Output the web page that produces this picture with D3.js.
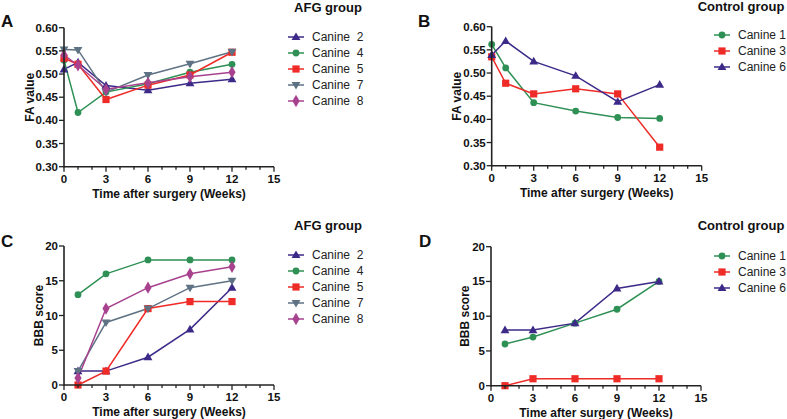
<!DOCTYPE html>
<html><head><meta charset="utf-8">
<script src="https://cdn.jsdelivr.net/npm/d3@7"></script>
<style>
body{margin:0;background:#fff;}
svg{display:block;font-family:Arial,"Liberation Sans",sans-serif;}
</style></head>
<body><svg id="c" width="787" height="419"></svg>
<script>
// ---- data ----
const weeksFA = [0, 1, 3, 6, 9, 12];
const weeksBBB = [1, 3, 6, 9, 12];
const xTicks = [0, 3, 6, 9, 12, 15];
const faTicks = [0.30, 0.35, 0.40, 0.45, 0.50, 0.55, 0.60];
const bbbTicks = [0, 5, 10, 15, 20];

const afgNames = ["Canine  2", "Canine  4", "Canine  5", "Canine  7", "Canine  8"];
const ctrlNames = ["Canine 1", "Canine 3", "Canine 6"];

// A: AFG FA
const faAfgC2 = [0.510, 0.525, 0.475, 0.465, 0.480, 0.489];
const faAfgC4 = [0.530, 0.417, 0.461, 0.479, 0.504, 0.521];
const faAfgC5 = [0.534, 0.521, 0.445, 0.476, 0.498, 0.547];
const faAfgC7 = [0.553, 0.552, 0.461, 0.498, 0.522, 0.548];
const faAfgC8 = [0.541, 0.519, 0.467, 0.481, 0.494, 0.504];
// B: Control FA
const faCtrlC1 = [0.562, 0.511, 0.436, 0.418, 0.404, 0.402];
const faCtrlC3 = [0.535, 0.478, 0.455, 0.466, 0.455, 0.340];
const faCtrlC6 = [0.539, 0.569, 0.525, 0.494, 0.438, 0.475];
// C: AFG BBB
const bbbAfgC2 = [2, 2, 4, 8, 14];
const bbbAfgC4 = [13, 16, 18, 18, 18];
const bbbAfgC5 = [0, 2, 11, 12, 12];
const bbbAfgC7 = [2, 9, 11, 14, 15];
const bbbAfgC8 = [1, 11, 14, 16, 17];
// D: Control BBB
const bbbCtrlC1 = [6, 7, 9, 11, 15];
const bbbCtrlC3 = [0, 1, 1, 1, 1];
const bbbCtrlC6 = [8, 8, 9, 14, 15];

// ---- styles ----
const PURPLE = "#3d2a88", GREEN = "#2f9055", RED = "#ee2b27", GREY = "#5e7284", MAG = "#a8428f";
const afgStyles = [
  {c: PURPLE, s: "tri"}, {c: GREEN, s: "circle"}, {c: RED, s: "square"},
  {c: GREY, s: "tridown"}, {c: MAG, s: "diamond"}];
const ctrlStyles = [{c: GREEN, s: "circle"}, {c: RED, s: "square"}, {c: PURPLE, s: "tri"}];

const svg = d3.select("#c");

function marker(g, type, x, y, color) {
  if (type === "circle") {
    g.append("circle").attr("cx", x).attr("cy", y).attr("r", 3.4).attr("fill", color);
  } else if (type === "square") {
    g.append("rect").attr("x", x - 3.6).attr("y", y - 3.6).attr("width", 7.2).attr("height", 7.2).attr("fill", color);
  } else if (type === "tri") {
    g.append("path").attr("d", d3.symbol(d3.symbolTriangle, 34)()).attr("transform", `translate(${x},${y + 0.5})`).attr("fill", color);
  } else if (type === "tridown") {
    g.append("path").attr("d", d3.symbol(d3.symbolTriangle, 34)()).attr("transform", `translate(${x},${y - 0.5}) rotate(180)`).attr("fill", color);
  } else if (type === "diamond") {
    g.append("path").attr("d", d3.symbol(d3.symbolDiamond, 44)()).attr("transform", `translate(${x},${y})`).attr("fill", color);
  }
}

function panel(o) {
  const x = d3.scaleLinear().domain([0, 15]).range([o.x0, o.x0 + 210]);
  const y = d3.scaleLinear().domain(o.yDomain).range([o.yBottom, o.yTop]);
  const g = svg.append("g");

  // series
  o.series.forEach((vals, i) => {
    const st = o.styles[i];
    const pts = vals.map((v, j) => [x(o.weeks[j]), y(v)]);
    g.append("path").attr("d", d3.line()(pts)).attr("fill", "none")
      .attr("stroke", st.c).attr("stroke-width", 1.5);
  });
  o.series.forEach((vals, i) => {
    const st = o.styles[i];
    vals.forEach((v, j) => marker(g, st.s, x(o.weeks[j]), y(v), st.c));
  });

  // x axis
  const xa = g.append("g").attr("transform", `translate(0,${o.yBottom})`);
  xa.append("line").attr("x1", x(0)).attr("x2", x(15)).attr("stroke", "#222").attr("stroke-width", 1.6);
  d3.range(0, 16).forEach(t => {
    const major = xTicks.includes(t);
    xa.append("line").attr("x1", x(t)).attr("x2", x(t)).attr("y1", 0).attr("y2", major ? 5 : 3)
      .attr("stroke", "#222").attr("stroke-width", 1.3);
  });
  xTicks.forEach(t => {
    xa.append("text").attr("x", x(t)).attr("y", 16).attr("text-anchor", "middle")
      .attr("font-size", 11.5).attr("font-weight", "bold").attr("fill", "#111").text(t);
  });
  // y axis
  const ya = g.append("g").attr("transform", `translate(${o.x0},0)`);
  ya.append("line").attr("y1", o.yTop).attr("y2", o.yBottom + 0.8).attr("stroke", "#222").attr("stroke-width", 1.6);
  o.yTicks.forEach(t => {
    ya.append("line").attr("x1", -5).attr("x2", 0).attr("y1", y(t)).attr("y2", y(t)).attr("stroke", "#222").attr("stroke-width", 1.3);
    ya.append("text").attr("x", -6).attr("y", y(t)).attr("dy", "0.35em").attr("text-anchor", "end")
      .attr("font-size", 11.5).attr("font-weight", "bold").attr("fill", "#111").text(o.yFmt(t));
  });
  // axis titles
  g.append("text").attr("x", x(7.5)).attr("y", o.yBottom + 31).attr("text-anchor", "middle")
    .attr("font-size", 12).attr("font-weight", "bold").attr("fill", "#111").text("Time after surgery (Weeks)");
  g.append("text").attr("transform", `translate(${o.yLabelX},${(o.yTop + o.yBottom) / 2}) rotate(-90)`)
    .attr("text-anchor", "middle").attr("font-size", 12).attr("font-weight", "bold").attr("fill", "#111").text(o.yLabel);
  // panel letter
  g.append("text").attr("x", o.letterX).attr("y", o.letterY).attr("font-size", 17).attr("font-weight", "bold")
    .attr("fill", "#111").text(o.letter);
  // legend
  const lg = g.append("g");
  lg.append("text").attr("x", o.legTitleX).attr("y", o.legTitleY).attr("text-anchor", "middle")
    .attr("font-size", 13).attr("font-weight", "bold").attr("fill", "#111").text(o.legTitle);
  o.names.forEach((n, i) => {
    const yy = o.legY + i * 16;
    const st = o.styles[i];
    lg.append("line").attr("x1", o.legX).attr("x2", o.legX + 16).attr("y1", yy).attr("y2", yy)
      .attr("stroke", st.c).attr("stroke-width", 1.5);
    marker(lg, st.s, o.legX + 8, yy, st.c);
    lg.append("text").attr("x", o.legX + 24).attr("y", yy).attr("dy", "0.35em").attr("font-size", 12)
      .attr("fill", "#222").style("white-space", "pre").text(n);
  });
}

const faFmt = d3.format(".2f");
const intFmt = d3.format("d");

panel({x0: 64, yTop: 27.7, yBottom: 166.7, yDomain: [0.30, 0.60], yTicks: faTicks, yFmt: faFmt,
  weeks: weeksFA, series: [faAfgC2, faAfgC4, faAfgC5, faAfgC7, faAfgC8], styles: afgStyles,
  yLabel: "FA value", yLabelX: 34, letter: "A", letterX: 1, letterY: 27,
  legTitle: "AFG group", legTitleX: 328, legTitleY: 12, names: afgNames, legX: 288, legY: 37});

panel({x0: 491.7, yTop: 26.7, yBottom: 165.7, yDomain: [0.30, 0.60], yTicks: faTicks, yFmt: faFmt,
  weeks: weeksFA, series: [faCtrlC1, faCtrlC3, faCtrlC6], styles: ctrlStyles,
  yLabel: "FA value", yLabelX: 461, letter: "B", letterX: 418, letterY: 27,
  legTitle: "Control group", legTitleX: 741, legTitleY: 11, names: ctrlNames, legX: 714, legY: 35});

panel({x0: 64, yTop: 246, yBottom: 385, yDomain: [0, 20], yTicks: bbbTicks, yFmt: intFmt,
  weeks: weeksBBB, series: [bbbAfgC2, bbbAfgC4, bbbAfgC5, bbbAfgC7, bbbAfgC8], styles: afgStyles,
  yLabel: "BBB score", yLabelX: 43, letter: "C", letterX: 1, letterY: 247,
  legTitle: "AFG group", legTitleX: 328, legTitleY: 230, names: afgNames, legX: 288, legY: 255});

panel({x0: 491, yTop: 246.7, yBottom: 385.7, yDomain: [0, 20], yTicks: bbbTicks, yFmt: intFmt,
  weeks: weeksBBB, series: [bbbCtrlC1, bbbCtrlC3, bbbCtrlC6], styles: ctrlStyles,
  yLabel: "BBB score", yLabelX: 469, letter: "D", letterX: 419, letterY: 247,
  legTitle: "Control group", legTitleX: 741, legTitleY: 230, names: ctrlNames, legX: 714, legY: 256});
</script></body></html>
